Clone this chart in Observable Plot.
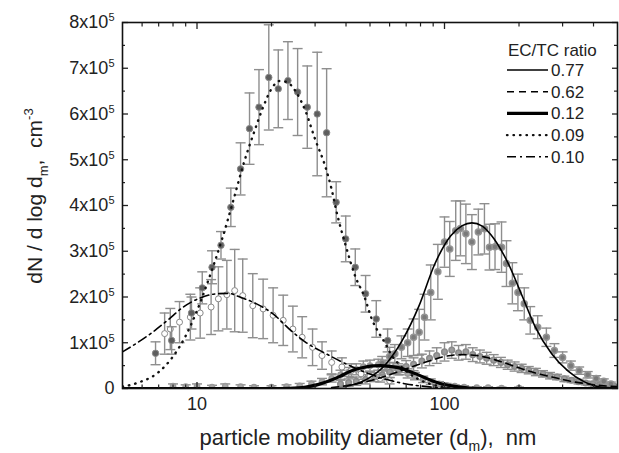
<!DOCTYPE html>
<html><head><meta charset="utf-8">
<script src="https://cdn.jsdelivr.net/npm/d3@7"></script>
<script src="https://cdn.jsdelivr.net/npm/@observablehq/plot@0.6"></script>
<style>
body{margin:0;background:#fff}
#chart{width:619px;height:453px}
</style>
</head><body><div id="chart"></div>
<script>
// Values in units of 10^5 cm^-3, diameters in nm
// ---- fitted curves ----
const fitD_077 = [40,45,51,57.7,67.5,78.8,91,106,118,129,142,154,181,205,232,271,316,366,420,500];
const fitV_077 = [0.05,0.12,0.27,0.52,1.05,1.8,2.7,3.34,3.56,3.62,3.55,3.36,2.73,2.05,1.36,0.76,0.38,0.15,0.04,0.01];

const fitD_062 = [35,40,50,60,70,80,90,100,118,135,150,175,205,240,278,330,380,440,500];
const fitV_062 = [0.02,0.06,0.17,0.3,0.43,0.54,0.63,0.7,0.74,0.72,0.67,0.56,0.43,0.32,0.24,0.15,0.1,0.06,0.04];

const fitD_012 = [5,20,23.6,27.5,31,34.3,38,41,44.5,48,51.5,55,60,65.6,71,76.6,83,89,96,104,112,121,140,500];
const fitV_012 = [0,0,0.005,0.03,0.09,0.17,0.27,0.36,0.43,0.47,0.495,0.5,0.485,0.45,0.39,0.32,0.24,0.17,0.11,0.07,0.04,0.02,0,0];

const fitD_009 = [5,5.5,6,6.5,7,8,9,10,11,12.6,14,15.5,17,18.5,20,21.5,23,25,27.5,30,33,35,36.5,40,43.6,47.5,51,54.5,57.7,60.6,65,70,80,90,100,120,150];
const fitV_009 = [0.04,0.09,0.16,0.24,0.36,0.7,1.15,1.7,2.3,3.25,4.1,4.95,5.6,6.15,6.55,6.72,6.7,6.5,6.05,5.45,4.85,4.35,3.9,3.1,2.45,2.0,1.5,1.2,0.98,0.76,0.55,0.38,0.18,0.08,0.03,0,0];

const fitD_010 = [5,6.5,7.6,8.8,10.3,12,13.4,14.9,17.4,20.3,23.6,27.5,33.2,39.9,48,58,70,85,100,130];
const fitV_010 = [0.8,1.2,1.49,1.78,1.98,2.07,2.08,2.0,1.85,1.63,1.3,1.01,0.76,0.54,0.35,0.2,0.1,0.04,0.01,0];

// ---- measured points (value, half error bar) ----
const ptD_009 = [6.8,7.9,9.5,10.5,11.5,12.5,13.7,15,16.3,17.8,19.5,21.3,23.3,25.5,27.9,30.6,33.4,36.5,39.9,43.6,48,53,58.9];
const ptV_009 = [0.77,1.05,1.65,2.2,2.65,3.13,3.96,4.8,5.68,6.15,6.8,6.55,6.73,6.48,6.15,6.0,5.59,4.07,3.27,2.65,2.07,1.52,1.05];
const ptE_009 = [0.25,0.3,0.35,0.35,0.36,0.3,0.42,0.57,0.78,0.82,1.15,0.85,0.85,0.95,0.9,1.35,1.4,0.45,0.5,0.4,0.4,0.4,0.25];

const ptD_010 = [7.4,7.8,8.5,9.4,10.3,11.4,12.2,13.2,14.2,15.3,16.8,18.5,20.3,22.3,24.4,26.6,29.3,32,35,38.5,42,46,50,55,60];
const ptV_010 = [1.2,1.3,1.45,1.56,1.65,1.78,1.96,2.05,2.14,2.03,1.81,1.74,1.6,1.49,1.3,1.12,0.9,0.72,0.57,0.47,0.39,0.32,0.27,0.22,0.17];
const ptE_010 = [0.45,0.45,0.45,0.5,0.55,0.6,0.7,0.75,0.9,0.8,0.7,0.65,0.6,0.55,0.5,0.45,0.4,0.3,0.25,0.2,0.15,0.12,0.1,0.08,0.07];

const ptD_077 = [56,60,63,67,71,75,79,83,88,94,100,105,111,116,122,129,137,145,152,160,170,178,188,198,210,222,238,258,278,300,324,350,379,410,440,470];
const ptV_077 = [0.55,0.7,0.76,0.9,1.0,1.12,1.23,1.56,2.1,2.55,3.2,3.05,3.45,3.5,3.38,3.2,3.42,3.49,3.09,3.1,3.09,2.73,2.3,2.1,1.85,1.49,1.34,1.12,0.83,0.68,0.5,0.39,0.3,0.22,0.16,0.1];
const ptE_077 = [0.15,0.2,0.2,0.25,0.3,0.4,0.5,0.5,0.6,0.6,0.55,0.6,0.65,0.6,0.65,0.6,0.5,0.55,0.5,0.5,0.55,0.5,0.45,0.4,0.35,0.3,0.25,0.2,0.15,0.12,0.1,0.08,0.07,0.06,0.05,0.04];

const ptD_062 = [38,41,44,48,52,56,60,65,70,75,81,87,93,100,107,114,122,130,139,148,158,169,180,192,205,219,234,250,267,285,305,326,348,372,397,424,453,484];
const ptV_062 = [0.1,0.13,0.16,0.2,0.25,0.3,0.36,0.42,0.48,0.53,0.6,0.66,0.72,0.8,0.84,0.78,0.8,0.74,0.7,0.66,0.62,0.57,0.52,0.48,0.44,0.4,0.36,0.32,0.28,0.25,0.21,0.18,0.15,0.12,0.1,0.08,0.06,0.05];
const ptE_062 = [0.08,0.08,0.09,0.1,0.1,0.11,0.12,0.12,0.13,0.14,0.15,0.16,0.17,0.2,0.18,0.16,0.16,0.15,0.14,0.13,0.12,0.11,0.1,0.1,0.09,0.08,0.08,0.07,0.07,0.06,0.06,0.05,0.05,0.04,0.04,0.03,0.03,0.03];

const ptD_012 = [8,9,10,11.5,13,15,17,20,23,26,29,32,35,38,41,44,47,50,54,58,62,66,71,76,82,88,95,102,110,120,135,150,170,200];
const ptV_012 = [0.05,0.04,0.05,0.03,0.05,0.04,0.03,0.03,0.04,0.06,0.1,0.15,0.22,0.3,0.36,0.42,0.48,0.5,0.52,0.5,0.45,0.4,0.33,0.27,0.2,0.15,0.1,0.07,0.05,0.03,0.02,0.02,0.01,0.01];
const ptE_012 = [0.05,0.04,0.05,0.04,0.05,0.04,0.03,0.03,0.04,0.05,0.06,0.07,0.08,0.1,0.1,0.12,0.12,0.12,0.12,0.12,0.12,0.1,0.1,0.08,0.07,0.06,0.05,0.04,0.03,0.03,0.02,0.02,0.02,0.02];

// ---- axes / text ----
const yMajor = [0,1,2,3,4,5,6,7,8];
const yMinor = [0.5,1.5,2.5,3.5,4.5,5.5,6.5,7.5];
const xMajor = [10,100];
const xMinor = [6,7,8,9,20,30,40,50,60,70,80,90,200,300,400];
const legendTitle = "EC/TC ratio";
const legendLabels = ["0.77","0.62","0.12","0.09","0.10"];
const xTitle = ["particle mobility diameter (d","m","),  nm"];
const yTitle = ["dN / d log d","m",",  cm","-3"];

const curve = (D, V) => D.map((d, i) => ({d, v: V[i]}));
const pts = (D, V, E) => D.map((d, i) => ({d, v: V[i], e: E[i]}));
const capSymbol = {draw(ctx) { ctx.moveTo(-5, 0); ctx.lineTo(5, 0); }};
const BAR = "#8e8e8e";

function errMarks(data, marker) {
  return [
    Plot.ruleX(data, {x: "d", y1: p => p.v - p.e, y2: p => p.v + p.e, stroke: BAR, strokeWidth: 1.4, clip: true}),
    Plot.dot(data, {x: "d", y: p => p.v + p.e, symbol: capSymbol, stroke: BAR, strokeWidth: 1.4, fill: "none", clip: true}),
    Plot.dot(data, {x: "d", y: p => p.v - p.e, symbol: capSymbol, stroke: BAR, strokeWidth: 1.4, fill: "none", clip: true}),
    Plot.dot(data, {x: "d", y: "v", clip: true, ...marker})
  ];
}

const lineStyles = [
  {stroke: "#000", strokeWidth: 1.6},
  {stroke: "#000", strokeWidth: 1.6, strokeDasharray: "7,5"},
  {stroke: "#000", strokeWidth: 3.2},
  {stroke: "#111", strokeWidth: 2.4, strokeDasharray: "0.5,6", strokeLinecap: "round"},
  {stroke: "#000", strokeWidth: 1.6, strokeDasharray: "9,4,2,4"}
];

const svg = Plot.plot({
  width: 619, height: 453,
  marginLeft: 122, marginRight: 2, marginTop: 22, marginBottom: 65,
  style: {fontFamily: "'Liberation Sans', Arial, sans-serif", fontSize: "18px", color: "#222", background: "#fff"},
  x: {type: "log", domain: [5, 500], label: null},
  y: {domain: [0, 8], label: null},
  marks: [
    ...errMarks(pts(ptD_012, ptV_012, ptE_012), {r: 2.6, fill: "#a9a9a9", stroke: "#9a9a9a"}),
    ...errMarks(pts(ptD_062, ptV_062, ptE_062), {r: 2.8, fill: "#9c9c9c", stroke: "#8a8a8a"}),
    ...errMarks(pts(ptD_077, ptV_077, ptE_077), {r: 3, fill: "#7a7a7a", stroke: "#949494"}),
    ...errMarks(pts(ptD_010, ptV_010, ptE_010), {r: 3, fill: "#fff", stroke: "#8a8a8a", strokeWidth: 1}),
    ...errMarks(pts(ptD_009, ptV_009, ptE_009), {r: 3.2, fill: "#5e5e5e", stroke: "#8a8a8a", strokeWidth: 1}),
    Plot.line(curve(fitD_062, fitV_062), {x: "d", y: "v", curve: "monotone-x", clip: true, ...lineStyles[1]}),
    Plot.line(curve(fitD_010, fitV_010), {x: "d", y: "v", curve: "monotone-x", clip: true, ...lineStyles[4]}),
    Plot.line(curve(fitD_009, fitV_009), {x: "d", y: "v", curve: "monotone-x", clip: true, ...lineStyles[3]}),
    Plot.line(curve(fitD_012, fitV_012), {x: "d", y: "v", curve: "monotone-x", clip: true, ...lineStyles[2]}),
    Plot.line(curve(fitD_077, fitV_077), {x: "d", y: "v", curve: "monotone-x", clip: true, ...lineStyles[0]}),
    Plot.axisY(yMajor, {tickSize: -6, tickPadding: 14, strokeWidth: 1.3, tickFormat: d => d === 0 ? "0" : d + "x10^5"}),
    Plot.axisY(yMinor, {tickSize: -3, strokeWidth: 1.2, tickFormat: () => ""}),
    Plot.axisY(yMajor, {anchor: "right", tickSize: -6, strokeWidth: 1.3, tickFormat: () => ""}),
    Plot.axisY(yMinor, {anchor: "right", tickSize: -4, strokeWidth: 1.2, tickFormat: () => ""}),
    Plot.axisX(xMajor, {tickSize: -6, tickPadding: 15, strokeWidth: 1.3, tickFormat: d => String(d)}),
    Plot.axisX(xMinor, {tickSize: -3.5, strokeWidth: 1.2, tickFormat: () => ""}),
    Plot.axisX(xMajor, {anchor: "top", tickSize: -6, strokeWidth: 1.3, tickFormat: () => ""}),
    Plot.axisX(xMinor, {anchor: "top", tickSize: -3.5, strokeWidth: 1.2, tickFormat: () => ""}),
    Plot.frame({stroke: "#111", strokeWidth: 1.6})
  ]
});

const s = d3.select(svg);
// superscript exponents in y tick labels
s.selectAll('g[aria-label="y-axis tick label"] text').each(function () {
  const t = this.textContent;
  if (t.includes("^")) {
    const [base, exp] = t.split("^");
    this.textContent = "";
    d3.select(this).append("tspan").text(base);
    d3.select(this).append("tspan").attr("dy", "-7").attr("font-size", "11px").text(exp);
  }
});

const font = "'Liberation Sans', Arial, sans-serif";
// x title
const xt = s.append("text").attr("x", 368).attr("y", 445).attr("text-anchor", "middle")
  .attr("font-family", font).attr("font-size", 22).attr("fill", "#222").style("white-space", "pre");
xt.append("tspan").text(xTitle[0]);
xt.append("tspan").attr("dy", 6).attr("font-size", 14).text(xTitle[1]);
xt.append("tspan").attr("dy", -6).text(xTitle[2]);
// y title
const yt = s.append("text").attr("transform", "translate(42,196) rotate(-90)").attr("text-anchor", "middle")
  .attr("font-family", font).attr("font-size", 21).attr("fill", "#222").style("white-space", "pre");
yt.append("tspan").text(yTitle[0]);
yt.append("tspan").attr("dy", 6).attr("font-size", 13).text(yTitle[1]);
yt.append("tspan").attr("dy", -6).text(yTitle[2]);
yt.append("tspan").attr("dy", -9).attr("font-size", 13).text(yTitle[3]);

// legend
const lg = s.append("g").attr("font-family", font).attr("font-size", 17).attr("fill", "#222").attr("text-anchor", "start");
lg.append("text").attr("x", 508).attr("y", 56).text(legendTitle);
legendLabels.forEach((lab, i) => {
  const y = 70 + i * 21.7;
  const st = lineStyles[i];
  lg.append("line").attr("x1", 507).attr("x2", 548).attr("y1", y).attr("y2", y)
    .attr("stroke", st.stroke).attr("stroke-width", st.strokeWidth)
    .attr("stroke-dasharray", st.strokeDasharray || null)
    .attr("stroke-linecap", st.strokeLinecap || null);
  lg.append("text").attr("x", 551).attr("y", y + 6).text(lab);
});

document.getElementById("chart").appendChild(svg);
</script>
</body></html>
